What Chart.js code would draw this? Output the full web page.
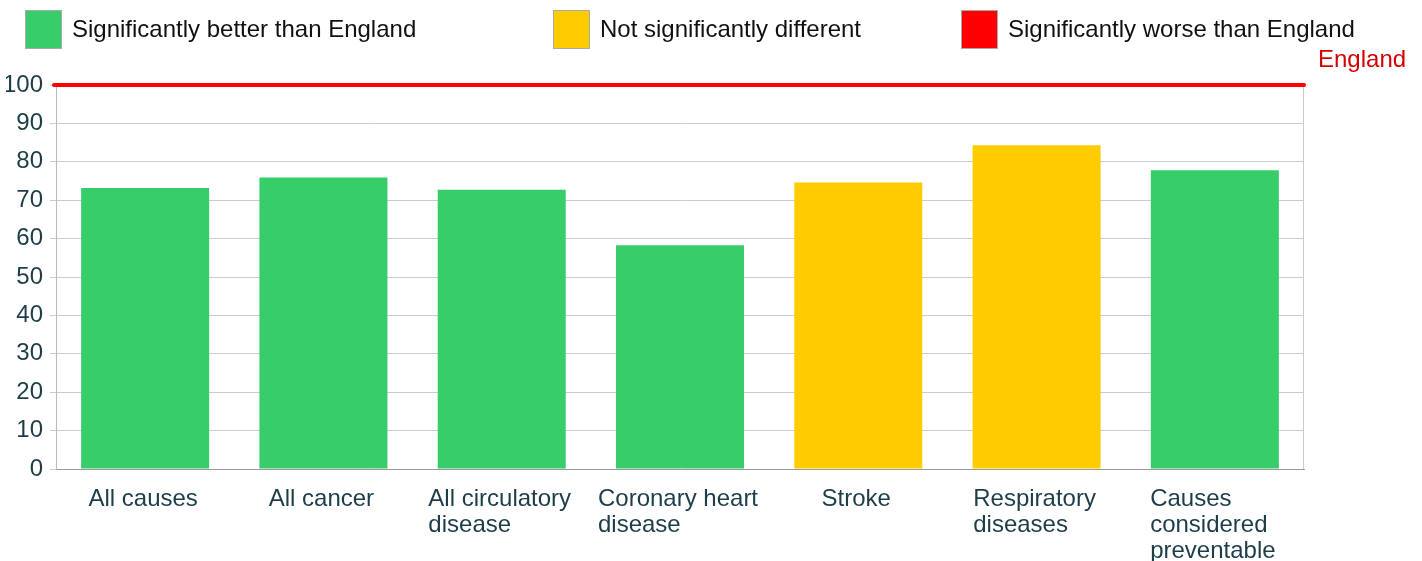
<!DOCTYPE html>
<html>
<head>
<meta charset="utf-8">
<script src="https://cdn.jsdelivr.net/npm/chart.js@4"></script>
<style>
  body { margin: 0; background: #fff; font-family: "Liberation Sans", Arial, sans-serif; }
  #wrap { position: relative; width: 1422px; height: 561px; }
  .key { position: absolute; top: 10px; height: 38px; display: flex; align-items: center; font-size: 24px; color: #111; }
  .key span.box { width: 35px; height: 37px; border: 1px solid #aaa; margin-right: 10px; }
</style>
</head>
<body>
<div id="wrap">
  <canvas id="chart" width="1422" height="561"></canvas>
</div>
<script>
// data
const categories = [
    ['All causes'],
    ['All cancer'],
    ['All circulatory', 'disease'],
    ['Coronary heart', 'disease'],
    ['Stroke'],
    ['Respiratory', 'diseases'],
    ['Causes', 'considered', 'preventable']
];
const ratios = [73.2, 75.9, 72.7, 58.3, 74.6, 84.3, 77.8];
const significance = ['better', 'better', 'better', 'better', 'same', 'same', 'better'];
const englandValue = 100;
const yTicks = [0, 10, 20, 30, 40, 50, 60, 70, 80, 90, 100];

const colours = { better: '#37cd6a', same: '#ffcc00', worse: '#ff0000' };
const legendItems = [
    { key: 'better', text: 'Significantly better than England', left: 25 },
    { key: 'same', text: 'Not significantly different', left: 553 },
    { key: 'worse', text: 'Significantly worse than England', left: 961 }
];

// legend boxes (html)
const wrap = document.getElementById('wrap');
legendItems.forEach(item => {
    const d = document.createElement('div');
    d.className = 'key';
    d.style.left = item.left + 'px';
    d.innerHTML = '<span class="box" style="background:' + colours[item.key] + '"></span>' + item.text;
    wrap.appendChild(d);
});

const textColour = '#1d3d48';
const font = '"Liberation Sans", Arial, sans-serif';

// england line, right border and wrapped category labels
const extras = {
    id: 'extras',
    afterDatasetsDraw(chart) {
        const { ctx, chartArea, scales } = chart;
        ctx.save();
        ctx.strokeStyle = '#cccccc';
        ctx.lineWidth = 1;
        ctx.beginPath();
        ctx.moveTo(Math.round(chartArea.right) - 0.5, chartArea.top);
        ctx.lineTo(Math.round(chartArea.right) - 0.5, chartArea.bottom);
        ctx.stroke();

        const y = scales.y.getPixelForValue(englandValue);
        ctx.strokeStyle = '#ff0000';
        ctx.lineWidth = 4;
        ctx.lineCap = 'round';
        ctx.beginPath();
        ctx.moveTo(chartArea.left - 2, y);
        ctx.lineTo(chartArea.right, y);
        ctx.stroke();

        ctx.fillStyle = '#d40000';
        ctx.font = '24px ' + font;
        ctx.textAlign = 'left';
        ctx.textBaseline = 'alphabetic';
        ctx.fillText('England', chartArea.right + 14, y - 18);

        // labels: block centred under the bar, lines left aligned
        const meta = chart.getDatasetMeta(0);
        ctx.fillStyle = textColour;
        meta.data.forEach((bar, i) => {
            const w = Math.max(...categories[i].map(l => ctx.measureText(l).width));
            const left = bar.x - w / 2 - 2;
            categories[i].forEach((line, j) => {
                ctx.fillText(line, left, chartArea.bottom + 37 + j * 26);
            });
        });
        ctx.restore();
    }
};

new Chart(document.getElementById('chart'), {
    type: 'bar',
    data: {
        labels: categories.map(c => c.join(' ')),
        datasets: [{
            data: ratios,
            backgroundColor: significance.map(s => colours[s]),
            borderWidth: 0,
            barPercentage: 0.718,
            categoryPercentage: 1
        }]
    },
    options: {
        responsive: false,
        animation: false,
        layout: { padding: { left: 6, top: 85, right: 118, bottom: 0 } },
        plugins: { legend: { display: false }, tooltip: { enabled: false } },
        scales: {
            x: {
                grid: { display: false },
                border: { color: '#999999' },
                ticks: { display: false },
                afterFit(scale) { scale.height = 92; }
            },
            y: {
                min: 0,
                max: 100,
                afterBuildTicks(scale) { scale.ticks = yTicks.map(v => ({ value: v })); },
                grid: { color: '#cccccc', tickLength: 6 },
                border: { color: '#bbbbbb' },
                ticks: { color: textColour, font: { family: font, size: 24 }, padding: 7 },
                afterFit(scale) { scale.width = 50; }
            }
        }
    },
    plugins: [extras]
});
</script>
</body>
</html>
